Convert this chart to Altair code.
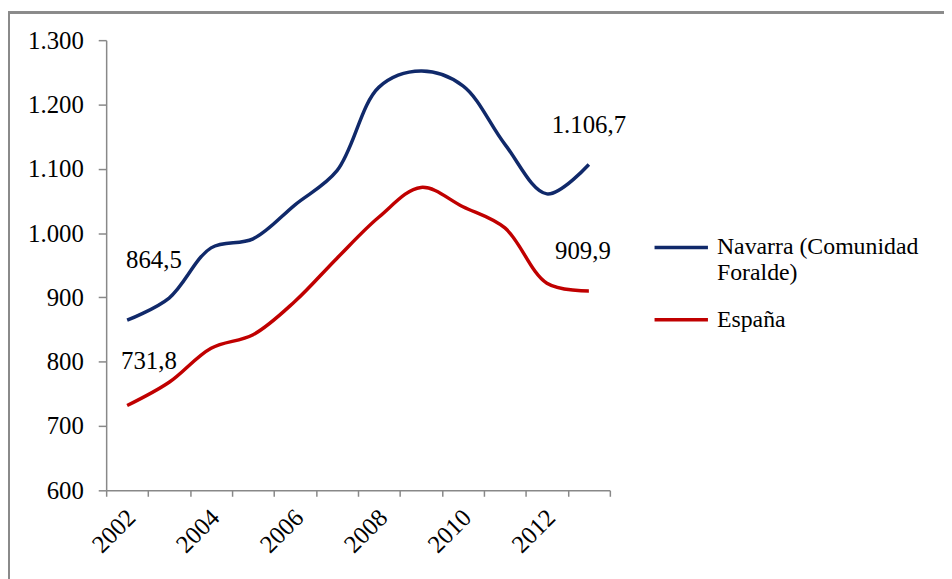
import altair as alt
import pandas as pd

# ---- data ----
years = list(range(2002, 2014))
navarra = [864.5, 899, 977, 991, 1044, 1097, 1227, 1252, 1229, 1138, 1061, 1106.7]
espana = [731.8, 768, 821, 842, 894, 961, 1025, 1071, 1041, 1008, 922, 909.9]
series_names = ["Navarra (Comunidad Foralde)", "España"]
series_colors = ["#10296A", "#C00000"]
y_ticks = [600, 700, 800, 900, 1000, 1100, 1200, 1300]
x_bounds = [y - 0.5 for y in years] + [years[-1] + 0.5]


def es_fmt(v):
    s = f"{v:,.1f}"
    return s.replace(",", "#").replace(".", ",").replace("#", ".")


rows = []
for name, vals in zip(series_names, [navarra, espana]):
    for yr, v in zip(years, vals):
        rows.append({"year": yr, "value": v, "series": name, "label": es_fmt(v)})
df = pd.DataFrame(rows)

FONT = "Liberation Serif"
FS = 25
W, H = 508, 454

x_scale = alt.Scale(domain=[years[0] - 0.5, years[-1] + 0.5], nice=False, zero=False)
y_scale = alt.Scale(domain=[600, 1300], nice=False, zero=False)

base = alt.Chart(df)

lines = base.mark_line(interpolate="catmull-rom", strokeWidth=3.5).encode(
    x=alt.X(
        "year:Q",
        scale=x_scale,
        title=None,
        axis=alt.Axis(
            values=x_bounds,
            labelExpr="(datum.value + 0.5) % 2 == 0 && datum.value < 2012.6 ? toString(datum.value + 0.5) : ''",
            labelAngle=-45,
            labelAlign="right",
            labelBaseline="middle",
            labelOffset=25,
            labelPadding=17,
            labelOverlap=False,
            labelFlush=False,
            labelBound=False,
            tickSize=6,
            labelFont=FONT,
        ),
    ),
    y=alt.Y(
        "value:Q",
        scale=y_scale,
        title=None,
        axis=alt.Axis(
            values=y_ticks,
            labelExpr="replace(format(datum.value, ','), ',', '.')",
            tickSize=8,
            labelPadding=15,
            labelFont=FONT,
        ),
    ),
    color=alt.Color(
        "series:N",
        scale=alt.Scale(domain=series_names, range=series_colors),
        title=None,
        legend=alt.Legend(
            orient="none",
            legendX=551,
            legendY=180,
            symbolType="stroke",
            symbolSize=2900,
            symbolStrokeWidth=3.5,
            labelFont=FONT,
            labelFontSize=24,
            labelColor="black",
            labelOffset=7,
            labelLimit=400,
            labelBaseline="middle",
            rowPadding=6,
            labelExpr="datum.label == 'Navarra (Comunidad Foralde)' ? ['Navarra (Comunidad', 'Foralde)'] : datum.label",
        ),
    ),
)


def text_layer(series, year, dx, dy):
    return (
        base.transform_filter(
            (alt.datum.series == series) & (alt.datum.year == year)
        )
        .mark_text(font=FONT, fontSize=FS, color="black", dx=dx, dy=dy)
        .encode(x=alt.X("year:Q", scale=x_scale), y=alt.Y("value:Q", scale=y_scale), text="label:N")
    )


labels = (
    text_layer(series_names[0], years[0], 27, -61)
    + text_layer(series_names[1], years[0], 22, -45)
    + text_layer(series_names[0], years[-1], 0, -40)
    + text_layer(series_names[1], years[-1], -6, -40)
)

frame = base.mark_rect(fillOpacity=0, stroke="#8A8A8A", strokeWidth=1.5).encode(
    x=alt.value(-98.5), x2=alt.value(860), y=alt.value(-28), y2=alt.value(560)
)

chart = (
    alt.layer(frame, lines, labels)
    .properties(
        width=W,
        height=H,
        autosize=alt.AutoSizeParams(type="none"),
        padding={"left": 99, "top": 30, "right": 337, "bottom": 87},
    )
    .configure_view(stroke=None)
    .configure_axis(
        grid=False,
        domainColor="#888888",
        tickColor="#888888",
        domainWidth=1.5,
        tickWidth=1.5,
        labelFont=FONT,
        labelFontSize=FS,
        labelColor="black",
    )
    .configure_legend(labelFont=FONT)
    .configure_text(font=FONT)
)

chart.save("out.html", embed_options={"renderer": "svg", "actions": False})
